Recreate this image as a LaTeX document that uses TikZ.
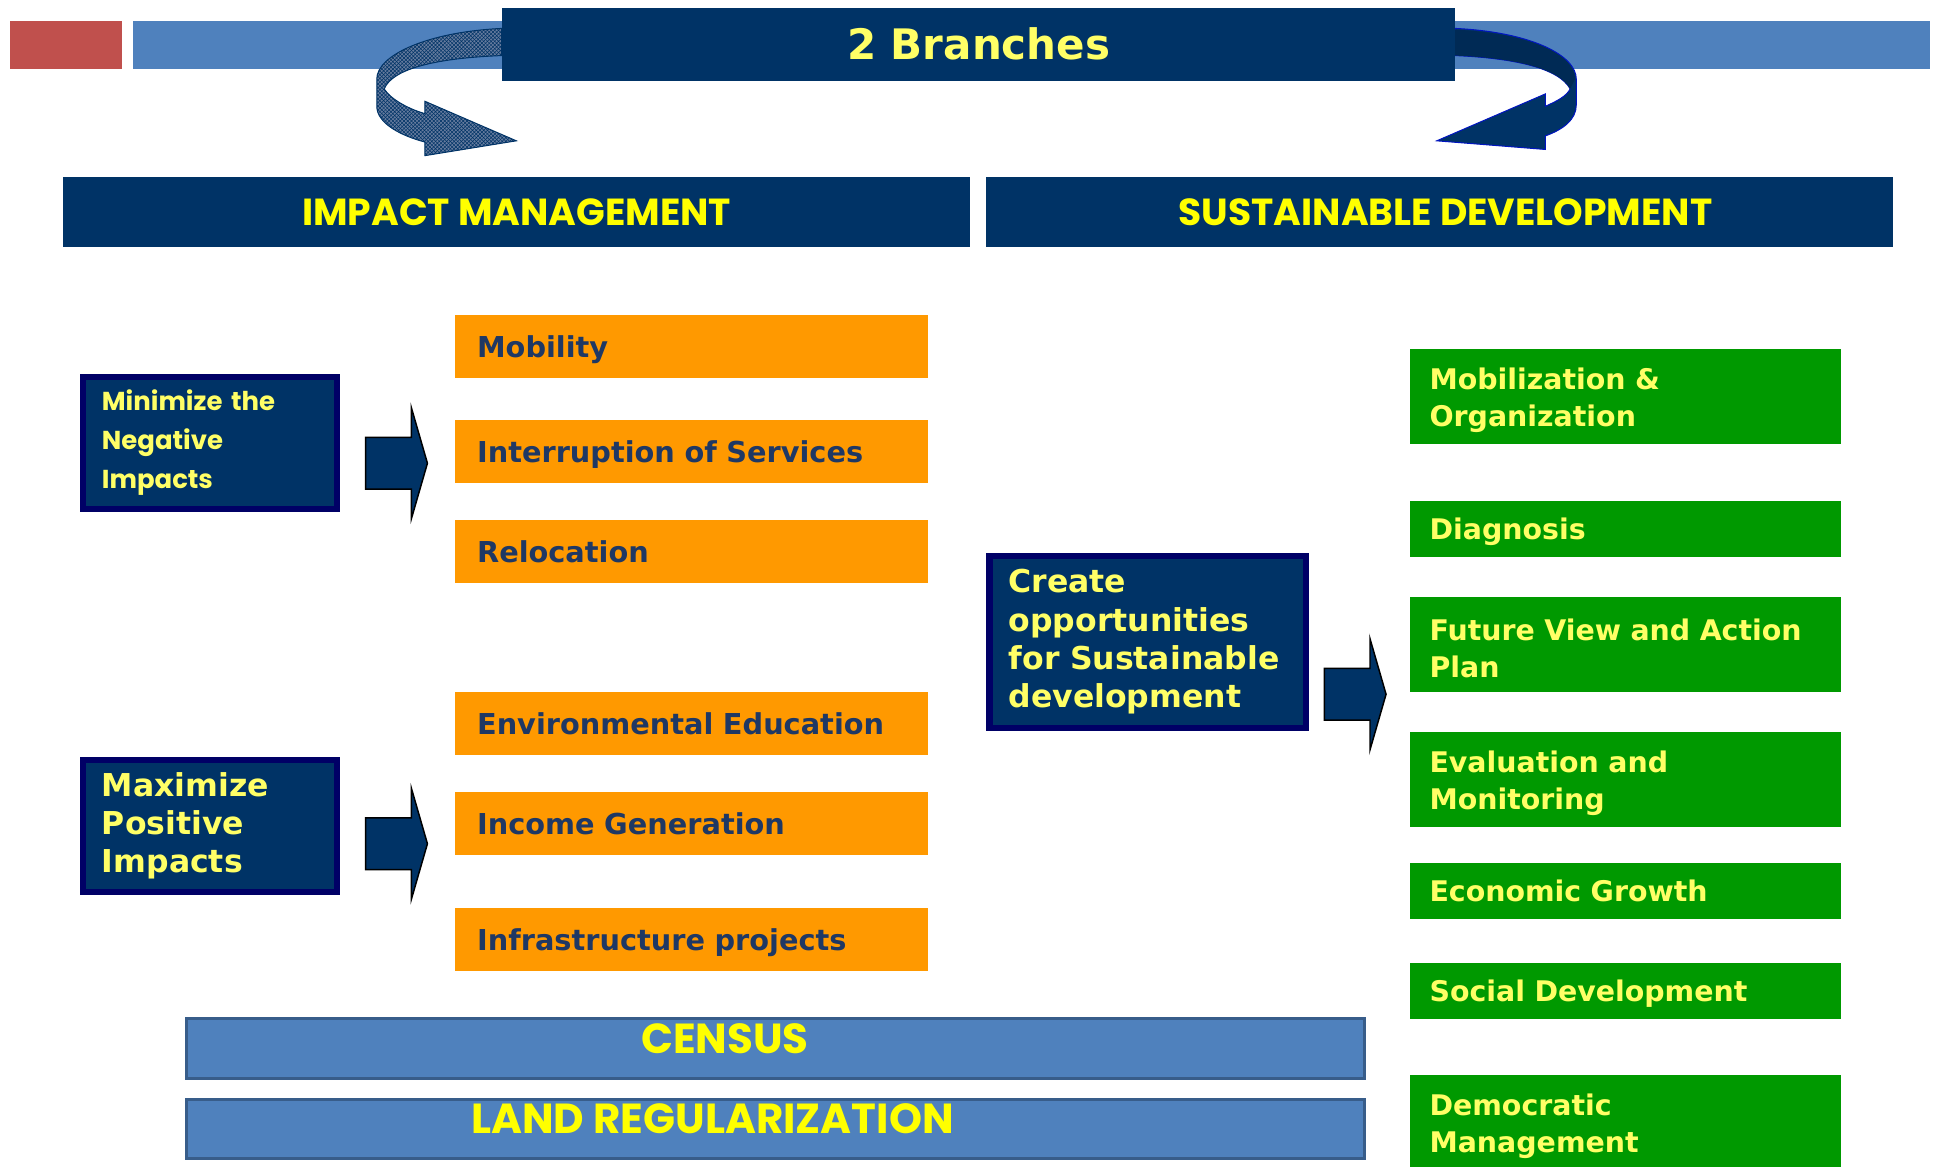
\documentclass[tikz,border=0pt]{standalone}
\usepackage{fontspec}
\setmainfont{DejaVu Sans}
\newfontfamily\gothfont{Poppins}
\usetikzlibrary{patterns,positioning}

\definecolor{navy}{HTML}{003366}
\definecolor{navydark}{HTML}{002A55}
\definecolor{navyline}{HTML}{000066}
\definecolor{bandblue}{HTML}{4F81BD}
\definecolor{barline}{HTML}{385D8A}
\definecolor{brickred}{HTML}{C0504D}
\definecolor{boxorange}{HTML}{FF9900}
\definecolor{boxgreen}{HTML}{009900}
\definecolor{textyellow}{HTML}{FFFF66}
\definecolor{headyellow}{HTML}{FFFF00}
\definecolor{itemtext}{HTML}{1F3864}
\definecolor{hatchbase}{HTML}{667C9E}

\tikzset{
    blockarrow/.pic={
        \draw[fill=navy, line width=1.2pt] (-25,-21) -- (12,-21) -- (12,-45) -- (25,0)
            -- (12,45) -- (12,21) -- (-25,21) -- cycle;
    }
}

\begin{document}
\begin{tikzpicture}[x=1pt,y=-1pt,
        titlebox/.style={fill=navy, text=textyellow, font=\bfseries\fontsize{34}{40}\selectfont,
            minimum width=772pt, minimum height=59pt, inner sep=0pt, anchor=north west},
        headbox/.style={fill=navy, text=headyellow, font=\gothfont\bfseries\fontsize{30.5}{36}\selectfont,
            minimum width=734pt, minimum height=57pt, inner sep=0pt, anchor=north west},
        goalbox/.style={fill=navy, draw=navyline, line width=5pt, text=textyellow, align=left,
            inner xsep=15.5pt, inner ysep=0pt, anchor=north west},
        itembox/.style={fill=boxorange, text=itemtext, font=\bfseries\fontsize{23.3}{30}\selectfont,
            text width=347pt, inner xsep=18pt, inner ysep=0pt, minimum height=51pt, text depth=0pt,
            align=left, anchor=north west},
        stepbox/.style={fill=boxgreen, text=textyellow, font=\bfseries\fontsize{23}{30}\selectfont,
            text width=317pt, inner xsep=16pt, inner ysep=0pt, align=left, anchor=north west},
        oneline/.style={minimum height=46pt, text depth=0pt},
        twoline/.style={minimum height=77pt, execute at begin node={\rule{0pt}{23.5pt}}},
        barbox/.style={fill=bandblue, draw=barline, line width=2.5pt, minimum width=954pt,
            minimum height=48pt, inner sep=0pt, anchor=north west},
        bartext/.style={text=headyellow, font=\gothfont\bfseries\fontsize{34}{40}\selectfont, inner sep=0pt}
    ]
    \useasboundingbox (0,0) rectangle (1568,944);

    % --- fascia in alto ---
    \fill[brickred] (8,17) rectangle (99,56);
    \fill[bandblue] (108,17) rectangle (1562,56);

    % --- freccia curva sinistra (tratteggiata) ---
    \draw[navy, line width=0.8pt, fill=hatchbase, postaction={pattern=crosshatch, pattern color=navy}]
        (406,23) .. controls (345,26) and (305,45) .. (305,64) -- (305,86)
        .. controls (305,100) and (325,110) .. (344,115) -- (344,126) -- (418,114) -- (344,82) -- (344,92)
        .. controls (330,88) and (316,80) .. (311,72)
        .. controls (318,55) and (355,47) .. (406,45) -- cycle;

    % --- freccia curva destra ---
    \draw[blue!60!navy, line width=0.8pt, fill=navy]
        (1178,23) .. controls (1240,26) and (1276,45) .. (1276,64) -- (1276,85)
        .. controls (1276,97) and (1265,105) .. (1251,110) -- (1251,121) -- (1163,114) -- (1251,76) -- (1251,86)
        .. controls (1260,82) and (1268,78) .. (1271,72)
        .. controls (1262,55) and (1225,47) .. (1178,45) -- cycle;
    \fill[navydark] (1178,24) .. controls (1240,27) and (1275,45) .. (1275,64) -- (1271,72)
        .. controls (1262,55) and (1225,47) .. (1178,45) -- cycle;

    % --- titoli ---
    \node[titlebox] (branches) at (406,6) {2 Branches};
    \node[headbox] (impact) at (51,143) {IMPACT MANAGEMENT};
    \node[headbox] (sustain) at (798,143) {\hspace*{10pt}SUSTAINABLE DEVELOPMENT};

    % --- gestione degli impatti ---
    \node[goalbox, minimum width=206pt, minimum height=107pt, text width=175pt,
        font=\gothfont\bfseries\fontsize{21}{31.5}\selectfont]
        (minimize) at (64.5,302.5) {Minimize the\\Negative\\Impacts};
    \node[goalbox, minimum width=206pt, minimum height=107pt, text width=175pt,
        font=\bfseries\fontsize{25.5}{31}\selectfont]
        (maximize) at (64.5,612.5) {Maximize\\Positive\\Impacts};
    \pic at (321,375) {blockarrow};
    \pic at (321,683) {blockarrow};

    \node[itembox] (mobility) at (368,255) {Mobility};
    \node[itembox] (interrupt) at (368,340) {Interruption of Services};
    \node[itembox] (relocation) at (368,421) {Relocation};
    \node[itembox] (education) at (368,560) {Environmental Education};
    \node[itembox] (income) at (368,641) {Income Generation};
    \node[itembox] (infra) at (368,735) {Infrastructure projects};

    % --- sviluppo sostenibile ---
    \node[goalbox, minimum width=256pt, minimum height=139pt, text width=225pt,
        font=\bfseries\fontsize{25.5}{31}\selectfont]
        (create) at (798.5,447.5) {Create\\opportunities\\for Sustainable\\development};
    \pic at (1097,562) {blockarrow};

    \node[stepbox, twoline] (mobilize) at (1141,282) {Mobilization \&\\Organization};
    \node[stepbox, oneline] (diagnosis) at (1141,405) {Diagnosis};
    \node[stepbox, twoline] (future) at (1141,483) {Future View and Action\\Plan};
    \node[stepbox, twoline] (evaluation) at (1141,592) {Evaluation and\\Monitoring};
    \node[stepbox, oneline] (economic) at (1141,698) {Economic Growth};
    \node[stepbox, oneline] (social) at (1141,779) {Social Development};
    \node[stepbox, twoline] (democratic) at (1141,870) {Democratic\\Management};

    % --- barre in basso ---
    \node[barbox] (census) at (149.5,823.5) {};
    \node[bartext] (censustext) at ([xshift=-41pt,yshift=-17pt]census.north) {CENSUS};
    \node[barbox] (land) at (149.5,888.5) {};
    \node[bartext] (landtext) at ([xshift=-51pt,yshift=-17pt]land.north) {LAND REGULARIZATION};
\end{tikzpicture}
\end{document}
